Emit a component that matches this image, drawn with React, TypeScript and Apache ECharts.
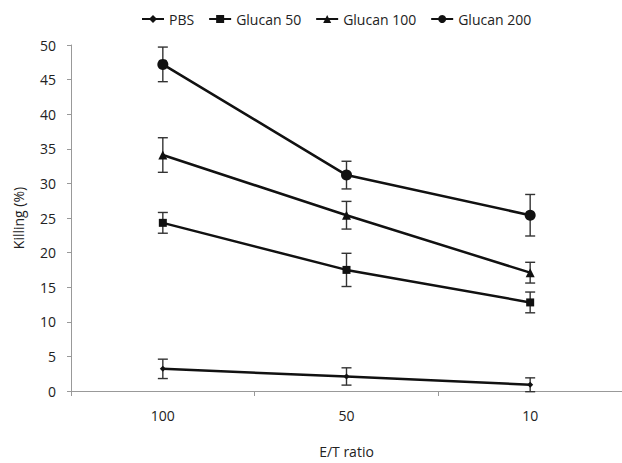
import React, { useEffect, useRef } from "react";
import * as echarts from "echarts";

const categories = ["100", "50", "10"];
const seriesNames = ["PBS", "Glucan 50", "Glucan 100", "Glucan 200"];
const pbs = [3.2, 2.1, 0.9];
const pbsErr = [1.4, 1.25, 1.0];
const glucan50 = [24.3, 17.5, 12.8];
const glucan50Err = [1.5, 2.4, 1.5];
const glucan100 = [34.1, 25.4, 17.1];
const glucan100Err = [2.5, 2.0, 1.5];
const glucan200 = [47.2, 31.2, 25.4];
const glucan200Err = [2.5, 2.0, 3.0];
const yTicks = { min: 0, max: 50, interval: 5 };

const FONT = "'Open Sans', sans-serif";

export default function App() {
  const ref = useRef<HTMLDivElement>(null);
  useEffect(() => {
    if (!ref.current) return;
    const chart = echarts.init(ref.current, null, { renderer: "svg" });
    const values = [pbs, glucan50, glucan100, glucan200];
    const errs = [pbsErr, glucan50Err, glucan100Err, glucan200Err];
    const symbols = ["diamond", "rect", "triangle", "circle"];
    const sizes = [6, 8, 9, 11];

    const lineSeries = seriesNames.map((name, i) => ({
      name,
      type: "line",
      data: values[i],
      symbol: symbols[i],
      symbolSize: sizes[i],
      lineStyle: { color: "#111", width: 2.5 },
      itemStyle: { color: "#111" },
      z: 3,
    }));

    const errSeries = seriesNames.map((name, i) => ({
      name: name + " err",
      type: "custom",
      z: 2,
      silent: true,
      data: values[i].map((v, j) => [j, v - errs[i][j], v + errs[i][j]]),
      renderItem: (params: any, api: any) => {
        const x = api.value(0);
        const lo = api.coord([x, api.value(1)]);
        const hi = api.coord([x, api.value(2)]);
        const cap = 5;
        const style = { stroke: "#333", lineWidth: 1.4 };
        return {
          type: "group",
          children: [
            { type: "line", shape: { x1: hi[0], y1: hi[1], x2: lo[0], y2: lo[1] }, style },
            { type: "line", shape: { x1: hi[0] - cap, y1: hi[1], x2: hi[0] + cap, y2: hi[1] }, style },
            { type: "line", shape: { x1: lo[0] - cap, y1: lo[1], x2: lo[0] + cap, y2: lo[1] }, style },
          ],
        };
      },
    }));

    chart.setOption({
      animation: false,
      backgroundColor: "#fff",
      textStyle: { fontFamily: FONT },
      legend: {
        data: seriesNames,
        top: 7,
        left: 136,
        itemWidth: 22,
        itemHeight: 10,
        itemGap: 14,
        textStyle: { fontFamily: FONT, fontSize: 14, color: "#222" },
      },
      grid: { left: 71, top: 45, width: 553, height: 347 },
      xAxis: {
        type: "category",
        data: categories,
        boundaryGap: true,
        name: "E/T ratio",
        nameLocation: "middle",
        nameGap: 53,
        nameTextStyle: { fontFamily: FONT, fontSize: 14, color: "#222" },
        axisLine: { lineStyle: { color: "#999", width: 1 } },
        axisTick: { show: true, length: 5, lineStyle: { color: "#999" } },
        axisLabel: { margin: 17, fontFamily: FONT, fontSize: 14, color: "#222" },
        splitLine: { show: false },
      },
      yAxis: {
        type: "value",
        min: yTicks.min,
        max: yTicks.max,
        interval: yTicks.interval,
        name: "Killing (%)",
        nameLocation: "middle",
        nameGap: 46,
        nameTextStyle: { fontFamily: FONT, fontSize: 14, color: "#222" },
        axisLine: { show: true, lineStyle: { color: "#999", width: 1 } },
        axisTick: { show: true, length: 4, lineStyle: { color: "#999" } },
        axisLabel: { margin: 15, fontFamily: FONT, fontSize: 14, color: "#222" },
        splitLine: { show: false },
      },
      series: [...errSeries, ...lineSeries],
    });
    return () => chart.dispose();
  }, []);
  return <div ref={ref} style={{ width: 622, height: 463, position: "absolute", left: 0, top: 0 }} />;
}
